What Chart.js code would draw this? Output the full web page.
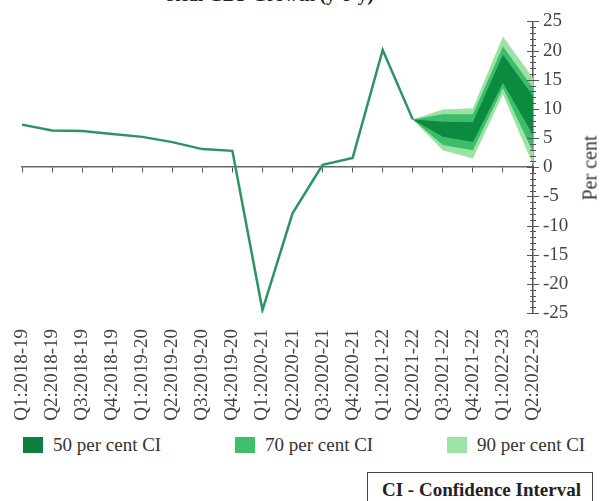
<!DOCTYPE html>
<html>
<head>
<meta charset="utf-8">
<script src="https://cdn.jsdelivr.net/npm/chart.js@4"></script>
<style>
  body { margin: 0; background: #fff; width: 606px; height: 501px; overflow: hidden; position: relative; font-family: "Liberation Serif", serif; color: #333; }
  #wrap { position: absolute; left: 0; top: 0; width: 606px; height: 430px; }
  .title { position: absolute; top: -15px; left: 0; width: 540px; text-align: center; font-weight: bold; font-size: 19px; line-height: 19px; color: #222; }
  .ytitle { position: absolute; left: 590px; top: 168px; font-size: 20px; transform: translate(-50%, -50%) rotate(-90deg); white-space: nowrap; }
  .leg { position: absolute; top: 437px; height: 16px; font-size: 19px; line-height: 16px; white-space: nowrap; }
  .leg span { display: inline-block; width: 20px; height: 16px; vertical-align: top; margin-right: 10px; }
  .note { position: absolute; left: 367px; top: 472px; width: 226px; height: 40px; border: 1.5px solid #444; box-sizing: border-box; font-weight: bold; font-size: 19px; padding: 6px 0 0 14px; white-space: nowrap; color: #222; }
</style>
</head>
<body>
<div class="title">Real GDP Growth (y-o-y)</div>
<div id="wrap"><canvas id="gdpChart"></canvas></div>
<div class="ytitle">Per cent</div>
<div class="leg" style="left:23px"><span style="background:#0d7f3f"></span>50 per cent CI</div>
<div class="leg" style="left:235px"><span style="background:#3dbf6c"></span>70 per cent CI</div>
<div class="leg" style="left:447px"><span style="background:#9de3a7"></span>90 per cent CI</div>
<div class="note">CI - Confidence Interval</div>
<script>
// ----- dados -----
const quarters = [
  'Q1:2018-19', 'Q2:2018-19', 'Q3:2018-19', 'Q4:2018-19',
  'Q1:2019-20', 'Q2:2019-20', 'Q3:2019-20', 'Q4:2019-20',
  'Q1:2020-21', 'Q2:2020-21', 'Q3:2020-21', 'Q4:2020-21',
  'Q1:2021-22', 'Q2:2021-22', 'Q3:2021-22', 'Q4:2021-22',
  'Q1:2022-23', 'Q2:2022-23'
];
const gdpGrowth = [7.3, 6.3, 6.2, 5.7, 5.2, 4.3, 3.1, 2.8, -24.5, -7.9, 0.4, 1.6, 20.1, 8.2, null, null, null, null];

// fan chart: Q2:2021-22 .. Q2:2022-23
const fanStart = 13;
const ci50Upper = [8.2, 7.8, 7.7, 19.3, 12.2];
const ci50Lower = [8.2, 5.2, 4.3, 14.5, 5.5];
const ci70Upper = [8.2, 9.1, 9.1, 20.7, 13.6];
const ci70Lower = [8.2, 3.8, 2.9, 13.6, 2.6];
const ci90Upper = [8.2, 9.9, 10.1, 22.4, 15.3];
const ci90Lower = [8.2, 2.9, 1.5, 12.5, 0.4];

const yTicksMin = -25;
const yTicksMax = 25;

// coloca a banda nas posições certas da série
function padFan(values) {
  return quarters.map((q, i) => (i >= fanStart ? values[i - fanStart] : null));
}

function band(values, color, fill) {
  return {
    data: padFan(values),
    borderWidth: 0,
    pointRadius: 0,
    backgroundColor: color,
    borderColor: color,
    fill: fill,
  };
}

// marcas do eixo y (maiores a cada 5, menores a cada 1)
const yAxisMarks = {
  id: 'yAxisMarks',
  afterDraw(chart) {
    const scale = chart.scales.y;
    const ctx = chart.ctx;
    const x = scale.left;
    ctx.save();
    ctx.strokeStyle = '#555';
    ctx.lineWidth = 1;
    scale.ticks.forEach((t, i) => {
      const py = Math.round(scale.getPixelForTick(i)) + 0.5;
      const len = t.value % 5 === 0 ? 6 : 3;
      ctx.beginPath();
      ctx.moveTo(x - len, py);
      ctx.lineTo(x + len, py);
      ctx.stroke();
    });
    ctx.restore();
  }
};

const green50 = '#0c8a40';
const green70 = '#3bbd69';
const green90 = '#9be2a4';
const serif = 'Liberation Serif';

new Chart(document.getElementById('gdpChart'), {
  type: 'line',
  data: {
    labels: quarters,
    datasets: [
      {
        data: gdpGrowth,
        borderColor: '#2b9562',
        borderWidth: 2.5,
        pointRadius: 0,
        fill: false,
        tension: 0,
      },
      band(ci50Upper, green50, false),
      band(ci50Lower, green50, '-1'),
      band(ci70Upper, green70, false),
      band(ci70Lower, green70, '-1'),
      band(ci90Upper, green90, false),
      band(ci90Lower, green90, '-1'),
    ],
  },
  options: {
    responsive: true,
    maintainAspectRatio: false,
    animation: false,
    layout: { padding: { left: 22, top: 18, right: 0, bottom: 0 } },
    plugins: {
      legend: { display: false },
      tooltip: { enabled: false },
    },
    scales: {
      x: {
        position: 'bottom',
        offset: false,
        grid: { display: false, drawTicks: false },
        border: { display: false },
        ticks: {
          autoSkip: false,
          minRotation: 90,
          maxRotation: 90,
          padding: 16,
          color: '#444',
          font: { family: serif, size: 19 },
        },
        afterFit(scale) { scale.height = 117; },
      },
      x2: {
        type: 'category',
        position: { y: 0 },
        offset: false,
        grid: { drawOnChartArea: false, drawTicks: true, tickLength: 5, color: '#555' },
        border: { display: true, color: '#666', width: 1.5 },
        ticks: { display: false },
      },
      y: {
        position: 'right',
        min: yTicksMin,
        max: yTicksMax,
        grid: { display: false, drawTicks: false },
        border: { display: true, color: '#555', width: 1.5 },
        ticks: {
          stepSize: 1,
          autoSkip: false,
          padding: 10,
          color: '#444',
          font: { family: serif, size: 19 },
          callback: v => (v % 5 === 0 ? String(v) : ''),
        },
        afterFit(scale) { scale.width = 73; },
      },
    },
  },
  plugins: [yAxisMarks],
});
</script>
</body>
</html>
